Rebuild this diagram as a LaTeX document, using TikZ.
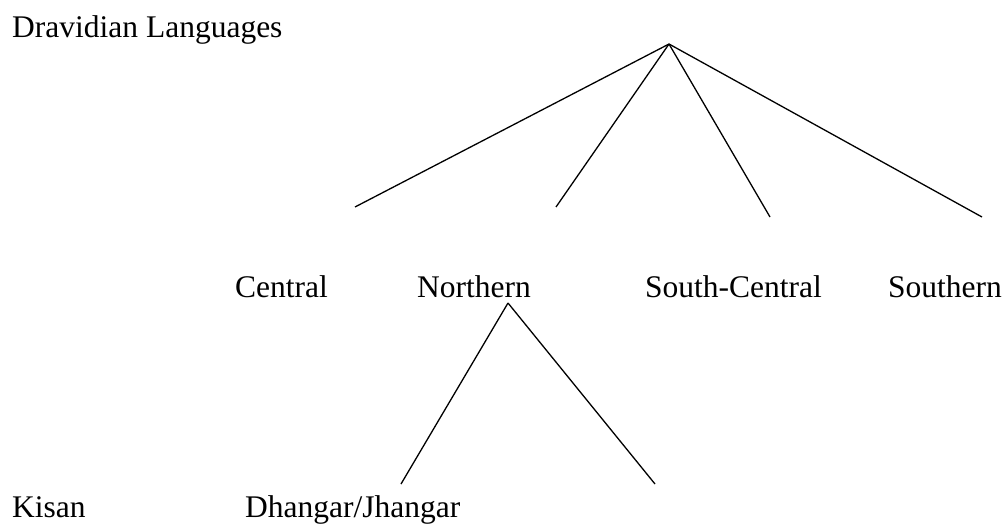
\documentclass[tikz,border=0pt]{standalone}
\usepackage{fontspec}
\setmainfont{Liberation Serif}
\begin{document}
\begin{tikzpicture}[x=1pt,y=-1pt,
  lbl/.style={anchor=base west,inner sep=0pt,font=\fontsize{31.5}{36}\selectfont},
  edge/.style={line width=1.3pt,black}]
\useasboundingbox (0,0) rectangle (1007,525);
\node[lbl] (dl) at (12,37) {Dravidian Languages};
\coordinate (top) at (669,44);
\coordinate (e1) at (355,207);
\coordinate (e2) at (556,207);
\coordinate (e3) at (770,217);
\coordinate (e4) at (982,217);
\draw[edge] (top) -- (e1);
\draw[edge] (top) -- (e2);
\draw[edge] (top) -- (e3);
\draw[edge] (top) -- (e4);
\node[lbl] (central) at (235,297) {Central};
\node[lbl] (northern) at (417,297) {Northern};
\node[lbl] (sc) at (645,297) {South-Central};
\node[lbl] (southern) at (888,297) {Southern};
\coordinate (ntop) at (508,303);
\coordinate (n1) at (401,484);
\coordinate (n2) at (655,484);
\draw[edge] (ntop) -- (n1);
\draw[edge] (ntop) -- (n2);
\node[lbl] (kisan) at (12,517) {Kisan};
\node[lbl] (dj) at (245,517) {Dhangar/Jhangar};
\end{tikzpicture}
\end{document}
